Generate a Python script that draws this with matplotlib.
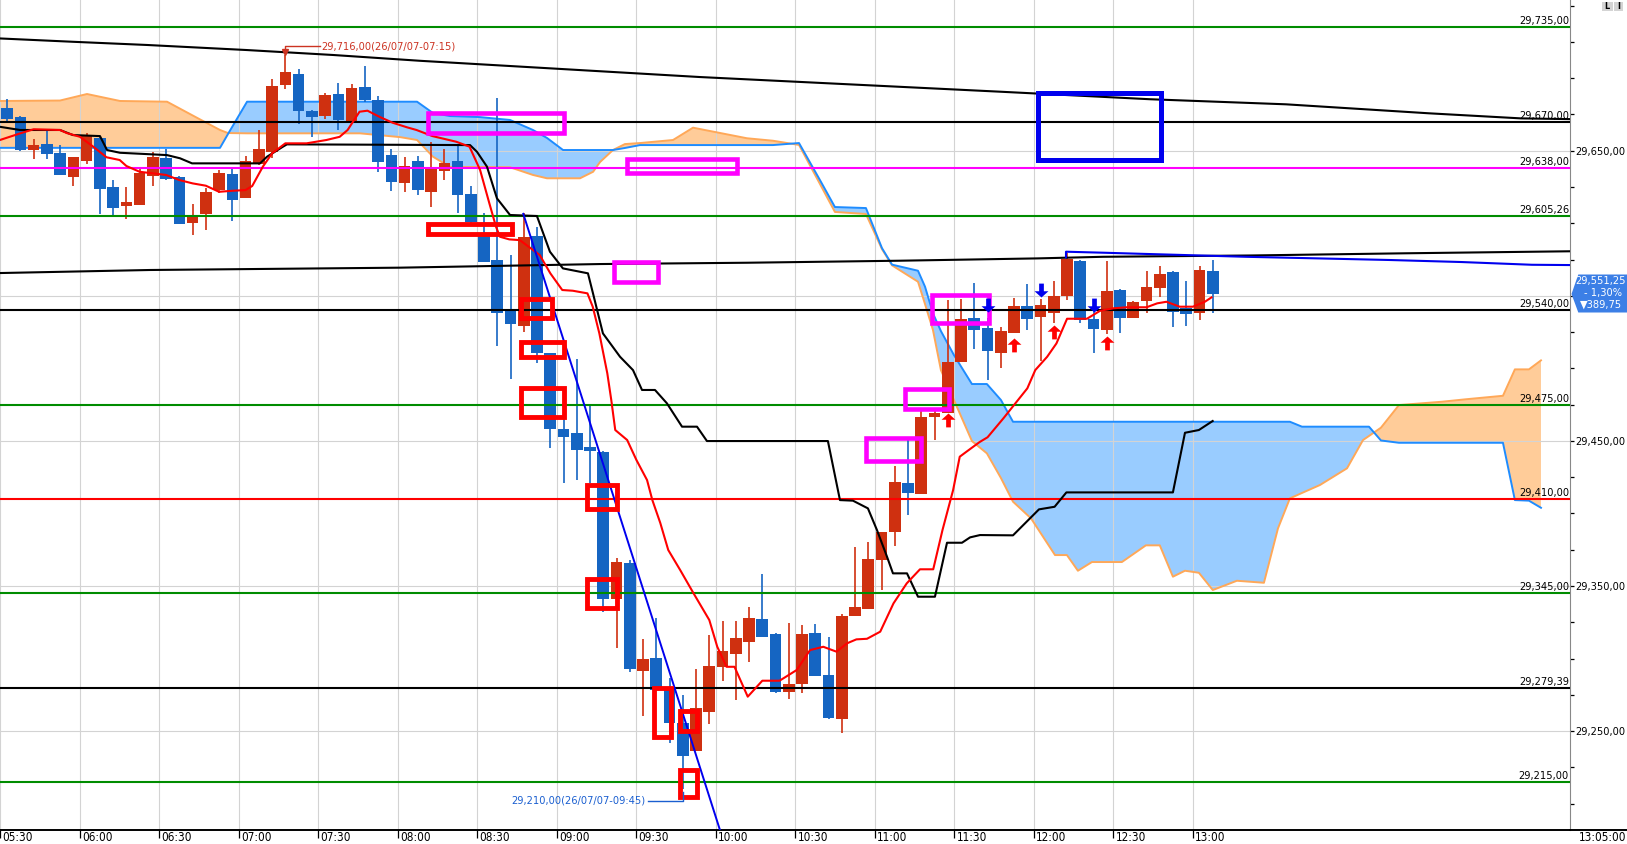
import numpy as np
import matplotlib
matplotlib.use("Agg")
import matplotlib.pyplot as plt
from matplotlib import font_manager
from matplotlib.patches import Rectangle, Polygon
from matplotlib.path import Path
from matplotlib.transforms import ScaledTranslation

# ---- 5 minute candles, 05:30 .. 13:05 ----
opens = [29679.4, 29673.2, 29650.5, 29654.6, 29648.6, 29632.1, 29643.1, 29658.8, 29625.2, 29612.1,
         29612.8, 29632.6, 29645.0, 29631.9, 29600.4, 29606.4, 29622.9, 29633.9, 29617.6, 29640.6,
         29649.1, 29695.5, 29702.9, 29677.6, 29673.9, 29689.3, 29670.0, 29694.1, 29684.9, 29647.0,
         29627.9, 29642.9, 29621.7, 29636.2, 29642.9, 29620.2, 29591.9, 29574.7, 29540.2, 29529.2,
         29591.2, 29510.4, 29458.0, 29455.4, 29445.8, 29442.5, 29340.8, 29365.6, 29291.6, 29300.5,
         29278.8, 29255.7, 29236.2, 29263.1, 29293.9, 29303.1, 29311.6, 29327.2, 29316.9, 29277.1,
         29282.4, 29317.6, 29288.6, 29258.5, 29329.3, 29334.3, 29367.9, 29387.4, 29420.7, 29413.6,
         29466.7, 29469.4, 29504.6, 29534.7, 29527.8, 29510.8, 29524.6, 29543.0, 29535.6, 29538.3,
         29549.8, 29574.2, 29534.2, 29526.4, 29554.0, 29534.7, 29546.4, 29555.6, 29566.4, 29541.8,
         29538.3, 29567.1]
highs = [29685.8, 29674.0, 29657.9, 29663.8, 29653.7, 29645.7, 29662.0, 29659.6, 29629.8, 29625.2,
         29637.6, 29649.1, 29651.4, 29632.6, 29613.3, 29624.1, 29636.7, 29637.9, 29646.3, 29664.3,
         29699.2, 29716.0, 29706.1, 29678.0, 29690.0, 29696.9, 29696.0, 29708.4, 29687.7, 29651.4,
         29645.5, 29646.3, 29656.0, 29651.0, 29653.9, 29625.7, 29606.9, 29686.1, 29578.1, 29606.9,
         29597.6, 29510.6, 29466.7, 29506.4, 29474.0, 29443.2, 29369.3, 29367.9, 29313.4, 29327.9,
         29286.8, 29274.8, 29292.5, 29316.2, 29326.1, 29325.9, 29335.3, 29358.2, 29317.6, 29324.7,
         29323.1, 29323.8, 29314.6, 29330.7, 29377.0, 29380.3, 29387.2, 29432.7, 29452.9, 29471.3,
         29471.3, 29547.1, 29547.6, 29559.0, 29535.0, 29528.3, 29548.3, 29558.1, 29547.6, 29560.2,
         29579.7, 29574.7, 29539.7, 29573.8, 29554.7, 29546.4, 29566.9, 29570.5, 29567.1, 29560.2,
         29570.5, 29574.7]
lows = [29670.0, 29650.0, 29644.5, 29644.5, 29633.3, 29625.9, 29640.8, 29606.4, 29604.5, 29602.9,
        29612.6, 29625.9, 29629.8, 29599.5, 29592.1, 29595.5, 29620.6, 29601.8, 29617.4, 29640.1,
        29644.8, 29692.7, 29668.4, 29659.2, 29672.1, 29664.3, 29669.8, 29683.8, 29635.5, 29622.4,
        29621.7, 29619.5, 29611.4, 29629.8, 29606.9, 29600.2, 29573.3, 29515.4, 29492.4, 29525.2,
        29503.9, 29445.3, 29420.7, 29423.0, 29421.0, 29332.2, 29307.2, 29290.9, 29260.6, 29278.3,
        29241.5, 29210.0, 29236.2, 29254.8, 29284.7, 29271.4, 29297.8, 29314.8, 29276.0, 29272.3,
        29276.4, 29287.9, 29258.5, 29248.8, 29329.3, 29334.1, 29347.2, 29377.5, 29398.7, 29413.4,
        29450.6, 29469.2, 29504.4, 29513.1, 29492.0, 29500.0, 29524.3, 29526.4, 29505.0, 29531.0,
        29547.1, 29531.0, 29510.8, 29523.7, 29524.6, 29534.7, 29538.3, 29549.0, 29528.7, 29529.2,
        29533.3, 29538.3]
closes = [29671.8, 29650.5, 29653.9, 29647.5, 29633.5, 29645.7, 29660.1, 29623.8, 29610.7, 29614.6,
          29634.8, 29645.9, 29630.7, 29599.7, 29604.5, 29621.5, 29634.8, 29616.0, 29643.1, 29651.4,
          29694.6, 29704.2, 29677.2, 29673.0, 29688.6, 29671.2, 29693.4, 29684.9, 29642.4, 29628.2,
          29639.7, 29622.9, 29638.6, 29641.3, 29619.5, 29601.1, 29573.5, 29538.3, 29530.5, 29590.3,
          29510.4, 29458.0, 29452.9, 29443.9, 29443.2, 29340.8, 29366.5, 29293.0, 29299.9, 29278.3,
          29255.7, 29233.0, 29265.7, 29294.8, 29305.2, 29314.1, 29327.9, 29315.0, 29276.9, 29282.4,
          29316.9, 29288.1, 29259.2, 29329.5, 29335.7, 29368.6, 29387.2, 29421.6, 29414.3, 29466.4,
          29469.4, 29504.6, 29534.0, 29526.4, 29512.0, 29525.9, 29543.0, 29534.2, 29543.4, 29549.8,
          29575.1, 29533.3, 29527.3, 29553.3, 29534.7, 29545.7, 29556.1, 29565.2, 29539.0, 29537.4,
          29567.8, 29551.25]

time_labels = ["05:30", "06:00", "06:30", "07:00", "07:30", "08:00", "08:30", "09:00",
               "09:30", "10:00", "10:30", "11:00", "11:30", "12:00", "12:30", "13:00"]

# horizontal levels drawn on the chart
level_prices = [29735.0, 29670.0, 29638.0, 29605.26, 29540.0, 29475.0, 29410.0, 29345.0, 29279.39, 29215.0]
level_colors = ["#008c00", "#000000", "#ff00ff", "#008c00", "#000000", "#008c00", "#ff0000",
                "#008c00", "#000000", "#008c00"]

# ichimoku cloud (bar index, span A, span B)
cloud_x = [-0.54, 3.99, 6.03, 8.52, 12.07, 14.56, 16.07, 16.67, 18.11, 22.11, 26.63, 29.65, 30.94,
           32.14, 33.43, 35.69, 37.96, 39.69, 40.75, 41.96, 43.24, 44.23, 44.75, 45.73, 46.63, 47.77,
           50.26, 51.77, 53.05, 55.84, 57.8, 59.77, 61.35, 62.48, 64.82, 66.03, 66.79, 68.75, 69.28,
           69.88, 70.48, 71.46, 72.82, 73.95, 75.01, 75.92, 77.28, 79.09, 79.99, 80.82, 81.88, 84.14,
           85.95, 87.0, 87.99, 88.9, 89.95, 91.0, 92.82, 94.86, 95.92, 96.82, 97.73, 99.09, 101.13,
           102.34, 102.79, 103.69, 105.05, 108.3, 110.11, 112.9, 113.8, 114.86, 115.77]
span_a = [29652.0, 29652.0, 29652.0, 29652.0, 29652.0, 29652.0, 29652.0, 29661.5, 29683.8, 29683.8,
          29683.8, 29683.8, 29683.8, 29676.0, 29673.9, 29673.2, 29671.2, 29664.3, 29658.8, 29650.5,
          29650.5, 29650.5, 29650.5, 29650.5, 29651.9, 29653.9, 29653.9, 29653.9, 29653.9, 29653.9,
          29653.9, 29655.3, 29629.8, 29611.2, 29610.5, 29582.9, 29571.5, 29567.3, 29556.3, 29537.9,
          29525.7, 29509.2, 29489.2, 29489.2, 29478.2, 29463.2, 29463.2, 29463.2, 29463.2, 29463.2,
          29463.2, 29463.2, 29463.2, 29463.2, 29463.2, 29463.2, 29463.2, 29463.2, 29463.2, 29463.2,
          29463.2, 29463.2, 29459.8, 29459.8, 29459.8, 29459.8, 29459.8, 29450.3, 29448.7, 29448.7,
          29448.7, 29448.7, 29409.2, 29408.8, 29403.9]
span_b = [29684.3, 29684.6, 29689.1, 29684.3, 29683.8, 29671.6, 29664.3, 29662.2, 29662.0, 29662.0,
          29662.0, 29659.4, 29657.4, 29645.9, 29638.8, 29638.8, 29638.6, 29633.3, 29631.0, 29631.0,
          29631.0, 29635.5, 29642.2, 29650.5, 29654.6, 29655.3, 29657.4, 29665.9, 29663.6, 29658.6,
          29656.9, 29654.0, 29627.1, 29607.8, 29606.4, 29582.2, 29571.0, 29559.7, 29544.3, 29526.4,
          29498.8, 29478.2, 29449.9, 29441.4, 29424.4, 29408.1, 29396.6, 29371.3, 29371.3, 29360.5,
          29366.5, 29366.5, 29378.0, 29378.0, 29356.4, 29360.5, 29359.1, 29347.2, 29353.6, 29352.2,
          29389.7, 29410.4, 29414.1, 29419.6, 29431.1, 29450.6, 29453.4, 29459.1, 29474.7, 29477.0,
          29478.7, 29481.1, 29499.3, 29499.3, 29505.5]

# short moving average (red)
ma_x = [-0.54, 1, 2, 4, 4.5, 5.5, 6.5, 7.5, 8.5, 9, 10, 11, 12, 13, 14, 15, 16, 17, 18, 18.5, 19.3,
        20, 21, 22.6, 24.1, 25.1, 25.7, 26.6, 27.2, 28.1, 29.1, 30.2, 30.9, 32.1, 33.9, 34.9, 35.7,
        36.4, 36.9, 37.2, 37.9, 38.7, 40.2, 41, 41.9, 42.7, 43.8, 44.2, 44.7, 45.3, 45.6, 45.9, 46.8,
        47.5, 48.3, 48.7, 49.3, 49.9, 50.8, 51.8, 53.0, 53.6, 54.3, 54.9, 55.9, 57.0, 58.3, 59.6,
        60.6, 61.6, 62.6, 63.4, 64.1, 64.9, 65.9, 66.9, 67.9, 68.9, 69.9, 70.6, 71.4, 71.9, 72.4,
        73.4, 74, 75.2, 77, 77.6, 78.5, 79.2, 80, 81.5, 82.5, 83.5, 84.5, 86, 86.8, 87.5, 88.5, 89.5,
        90.4, 90.9]
ma_y = [29657.4, 29662.0, 29664.8, 29664.3, 29662.2, 29659.6, 29652.8, 29645.5, 29643.6, 29639.5,
        29635.5, 29634.4, 29633.3, 29629.8, 29627.5, 29625.9, 29621.7, 29622.4, 29622.9, 29625.7,
        29639.0, 29648.2, 29655.1, 29655.1, 29657.4, 29659.6, 29664.3, 29676.9, 29677.6, 29673.4,
        29669.3, 29666.1, 29664.3, 29660.1, 29656.2, 29652.8, 29636.7, 29613.7, 29597.6, 29590.7,
        29588.9, 29588.4, 29578.1, 29565.5, 29554.0, 29553.5, 29551.7, 29542.5, 29524.1, 29496.6,
        29478.2, 29457.5, 29450.6, 29436.8, 29423.0, 29409.2, 29393.4, 29374.8, 29361.0, 29345.1,
        29326.5, 29308.1, 29294.3, 29294.3, 29273.7, 29284.7, 29284.7, 29292.1, 29305.8, 29308.1,
        29304.7, 29310.5, 29313.2, 29313.6, 29318.5, 29338.0, 29351.8, 29361.5, 29361.5, 29388.6,
        29416.1, 29439.1, 29442.5, 29449.2, 29452.5, 29465.6, 29486.2, 29498.8, 29508.0, 29517.2,
        29534.2, 29534.2, 29539.7, 29541.4, 29542.1, 29542.1, 29544.8, 29545.9, 29542.5, 29542.5,
        29545.9, 29548.9]

# base line (black steps)
base_x = [-0.54, 0.97, 3.99, 4.97, 7.01, 7.54, 8.52, 12.07, 13.05, 13.96, 19.09, 19.62, 20.82, 21.12,
          34.94, 35.46, 36.22, 36.97, 37.96, 39.99, 40.97, 41.95, 43.84, 44.22, 44.97, 46.26, 47.24,
          47.92, 48.9, 49.8, 50.94, 52.07, 52.82, 61.95, 62.86, 63.84, 64.97, 65.65, 66.41, 66.86,
          67.92, 68.75, 70.03, 70.94, 72.07, 72.68, 73.43, 75.92, 77.88, 79.06, 79.95, 87.99, 88.9,
          89.95, 90.99]
base_y = [29666.5, 29664.3, 29664.3, 29660.8, 29660.1, 29650.5, 29648.6, 29647.0, 29644.8, 29641.3,
          29641.3, 29645.9, 29652.8, 29654.4, 29653.9, 29649.3, 29639.0, 29617.2, 29605.7, 29605.0,
          29580.4, 29568.9, 29565.5, 29551.7, 29524.1, 29508.0, 29498.8, 29485.1, 29485.1, 29475.9,
          29459.8, 29459.8, 29449.9, 29449.9, 29409.2, 29408.8, 29403.5, 29388.6, 29370.2, 29358.7,
          29358.7, 29342.6, 29342.6, 29379.8, 29379.8, 29383.5, 29385.1, 29384.9, 29402.8, 29404.6,
          29414.5, 29414.5, 29455.6, 29457.5, 29463.7]

# long averages
long1_x = [-0.54, 10.78, 29.65, 44.75, 55.84, 67.4, 77.8, 82.71, 93.8, 105.43, 117.96]
long1_y = [29565.7, 29567.8, 29569.4, 29571.9, 29572.8, 29574.2, 29575.8, 29576.9, 29577.8, 29579.3, 29580.7]
long2_x = [79.92, 79.92, 82.78, 85.43, 88.14, 93.5, 98.93, 104.3, 109.73, 115.09, 117.96]
long2_y = [29576.5, 29580.4, 29579.7, 29579.0, 29578.3, 29576.9, 29575.8, 29574.7, 29573.3, 29571.4, 29571.2]
long3_x = [-0.54, 4.97, 10.56, 18.11, 24.6, 31.16, 52.29, 74.93, 86.26, 96.52, 107.32, 114.26, 117.96]
long3_y = [29727.4, 29725.1, 29722.9, 29719.4, 29716.0, 29712.0, 29700.8, 29690.7, 29685.5, 29682.0,
           29675.8, 29672.3, 29671.8]

# trend line
trend_x = [38.96, 53.9]
trend_y = [29606.5, 29179.0]

# marked boxes (bar0, bar1, price0, price1)
magenta_boxes = [(31.77, 42.03, 29662.2, 29676.0), (46.81, 55.06, 29634.4, 29644.5),
                 (45.8, 49.1, 29559.3, 29573.5), (69.83, 74.08, 29531.0, 29550.5),
                 (67.79, 71.06, 29471.8, 29486.0), (64.82, 69.0, 29436.1, 29451.8)]
red_boxes = [(31.79, 38.08, 29592.4, 29599.3), (38.78, 41.09, 29534.5, 29547.8),
             (38.78, 42.05, 29508.0, 29518.4), (38.78, 42.05, 29466.7, 29486.2),
             (43.79, 46.05, 29402.8, 29419.6), (43.79, 46.05, 29334.6, 29354.6),
             (48.84, 50.08, 29246.1, 29279.9), (50.79, 52.05, 29249.8, 29263.6),
             (50.79, 52.05, 29204.6, 29222.9)]
blue_boxes = [(77.82, 87.06, 29643.6, 29689.6)]

# signals
buy_bars = [71, 76, 79, 83]
buy_tips = [29469.0, 29520.7, 29529.7, 29522.5]
sell_bars = [74, 78, 82]
sell_tips = [29539.0, 29549.4, 29539.0]

RED = "#cf3010"
BLUE = "#1565c2"
W, H = 1627, 844

names = {f.name for f in font_manager.fontManager.ttflist}
if "Liberation Sans Narrow" in names:
    plt.rcParams["font.family"] = ["Liberation Sans Narrow", "DejaVu Sans"]
    FS, FSX = 9.6, 9.8
else:
    cond = any(f.name == "DejaVu Sans" and f.stretch == "condensed" for f in font_manager.fontManager.ttflist)
    plt.rcParams["font.family"] = ["DejaVu Sans"]
    if cond:
        plt.rcParams["font.stretch"] = "condensed"
        FS, FSX = 7.9, 8.4
    else:
        FS, FSX = 7.1, 7.8

fig = plt.figure(figsize=(W / 100, H / 100), dpi=100)
ax = fig.add_axes([0, 14 / H, 1570 / W, 830 / H])
ax.set_xlim(-0.536, 117.96)
ax.set_ylim(29181.8, 29753.9)

# grid
grid_pos = [6 * i - 0.5 for i in range(len(time_labels))]
for g in grid_pos:
    ax.axvline(g, color="#d3d3d3", lw=0.8, zorder=1.5)
for g in [29250, 29350, 29450, 29550, 29650]:
    ax.axhline(g, color="#d3d3d3", lw=0.8, zorder=1.5)

# cloud
cx = np.array(cloud_x)
sa = np.array(span_a)
sb = np.array(span_b)
ax.fill_between(cx, sa, sb, where=sa >= sb, interpolate=True, color="#99ccff", lw=0, zorder=1)
ax.fill_between(cx, sa, sb, where=sa < sb, interpolate=True, color="#ffcc99", lw=0, zorder=1)
ax.plot(cx, sb, color="#ffa858", lw=1.4, zorder=1.6)
ax.plot(cx, sa, color="#1e8cff", lw=1.4, zorder=1.7)

# candles
x = np.arange(len(opens))
o, h, l, c = (np.array(v) for v in (opens, highs, lows, closes))
cols = np.where(c >= o, RED, BLUE)
lo = np.minimum(o, c)
hgt = np.maximum(np.abs(c - o), 0.7)
ax.vlines(x, l, h, colors=cols, lw=1.2, zorder=3)
ax.bar(x, hgt, bottom=lo, width=0.88, color=cols, lw=0, zorder=3.1)

# levels
for p, col in zip(level_prices, level_colors):
    ax.axhline(p, color=col, lw=1.5, zorder=4)
    txt = f"{p:,.2f}".replace(".", ",")
    ax.annotate(txt, xy=(1, p), xycoords=("axes fraction", "data"), xytext=(-1, 1),
                textcoords="offset pixels", ha="right", va="bottom", fontsize=FS, zorder=8)

# lines
ax.plot(long3_x, long3_y, color="black", lw=1.5, zorder=4.5)
ax.plot(long1_x, long1_y, color="black", lw=1.5, zorder=4.5)
ax.plot(long2_x, long2_y, color="#0000ee", lw=1.5, zorder=4.5)
ax.plot(base_x, base_y, color="black", lw=1.5, zorder=5)
ax.plot(ma_x, ma_y, color="#ff0000", lw=1.5, zorder=5.1)
ax.plot(trend_x, trend_y, color="#0000ee", lw=1.4, zorder=5.2)

# boxes
for boxes, col, lw in ((magenta_boxes, "#ff00ff", 3.3), (red_boxes, "#ff0000", 3.5), (blue_boxes, "#0000ee", 3.6)):
    for b0, b1, p0, p1 in boxes:
        ax.add_patch(Rectangle((b0, p0), b1 - b0, p1 - p0, fill=False, ec=col, lw=lw,
                               joinstyle="miter", zorder=6))

# signal arrows
up_arrow = Path([(0, 0), (-0.5, -0.45), (-0.17, -0.45), (-0.17, -1), (0.17, -1), (0.17, -0.45),
                 (0.5, -0.45), (0, 0)], [1, 2, 2, 2, 2, 2, 2, 79])
down_arrow = Path([(px, -py) for px, py in up_arrow.vertices], up_arrow.codes)
ax.plot(buy_bars, buy_tips, ls="none", marker=up_arrow, ms=20, color="#ff0000", mew=0, zorder=7)
ax.plot(sell_bars, sell_tips, ls="none", marker=down_arrow, ms=20, color="#0000ee", mew=0, zorder=7)

# high / low notes
i_hi = int(np.argmax(h))
i_lo = int(np.argmin(l))
ax.plot([i_hi, i_hi, i_hi + 2.6], [h[i_hi] + 2.5, h[i_hi] + 6.5, h[i_hi] + 6.5], color="#cc3322", lw=1, zorder=7)
ax.plot([i_hi], [h[i_hi] + 2.3], marker="v", ms=5, color="#cc3322", zorder=7)
ax.text(i_hi + 2.7, h[i_hi] + 5.8, f"{h[i_hi]:,.2f}".replace(".", ",") + "(26/07/07-07:15)",
        color="#cc3322", fontsize=FS, va="center", ha="left", zorder=8)
ax.plot([i_lo - 2.6, i_lo, i_lo], [l[i_lo] - 8, l[i_lo] - 8, l[i_lo] - 1.8], color="#1a5fd0", lw=1, zorder=7)
ax.text(i_lo - 2.85, l[i_lo] - 8, f"{l[i_lo]:,.2f}".replace(".", ",") + "(26/07/07-09:45)",
        color="#1a5fd0", fontsize=FS, va="center", ha="right", zorder=8)

# axes styling
for s in ("left", "top"):
    ax.spines[s].set_visible(False)
ax.spines["right"].set_color("#888888")
ax.spines["bottom"].set_linewidth(1.4)
ax.set_xticks(grid_pos)
ax.set_xticklabels(time_labels)
ax.tick_params(axis="x", direction="out", length=5.5, width=0.9, pad=-4.8, labelsize=FSX)
for t in ax.get_xticklabels():
    t.set_ha("left")
    t.set_transform(t.get_transform() + ScaledTranslation(1.5 / 72, 0, fig.dpi_scale_trans))
ax.yaxis.tick_right()
yt = [29250, 29350, 29450, 29550, 29650]
ax.set_yticks(yt)
ax.set_yticklabels(["" if v == 29550 else f"{v:,.2f}".replace(".", ",") for v in yt])
ax.set_yticks(np.arange(29200, 29751, 25), minor=True)
ax.tick_params(axis="y", which="both", direction="out", length=3, width=0.9, pad=1, labelsize=FS)

# overlay for frame pieces
ov = fig.add_axes([0, 0, 1, 1], zorder=5)
ov.set_xlim(0, W)
ov.set_ylim(H, 0)
ov.axis("off")
ov.patch.set_alpha(0)
ov.plot([1570, W], [830, 830], color="black", lw=1.4)
ov.text(W - 1, 837.5, "13:05:00", ha="right", va="center", fontsize=FSX)
for x0, x1, lab in ((1601.7, 1612.7, "L"), (1614, 1623.3, "I")):
    ov.add_patch(Rectangle((x0, 1.7), x1 - x0, 9, fc="#d4d4d4", ec="none"))
    ov.text((x0 + x1) / 2, 6.5, lab, ha="center", va="center", fontsize=6.5, fontweight="bold")

yb = H - ax.transData.transform((0, closes[-1]))[1]
ov.add_patch(Polygon([(1571.5, yb), (1578.3, yb - 19.5), (W, yb - 19.5), (W, yb + 18.5), (1578.3, yb + 18.5)],
                     closed=True, fc="#3c7fe6", ec="none"))
chg = closes[-1] - 29941.0
ov.text(1601, yb - 13, f"{closes[-1]:,.2f}".replace(".", ","), color="white", ha="center", va="center", fontsize=FS)
ov.text(1603, yb - 1, "- 1,30%", color="white", ha="center", va="center", fontsize=FS)
ov.text(1601, yb + 11, "\u25bc" + f"{abs(chg):,.2f}".replace(".", ","), color="white", ha="center",
        va="center", fontsize=FS)

fig.savefig("out.png", dpi=100)
